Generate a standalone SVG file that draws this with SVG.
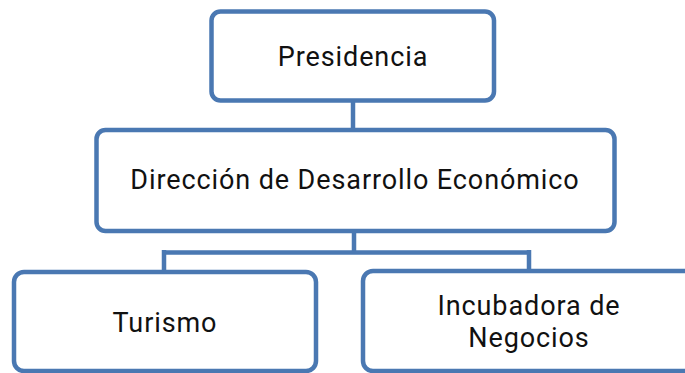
<svg xmlns="http://www.w3.org/2000/svg" width="685" height="373" viewBox="0 0 685 373">
<style>
.box{fill:#ffffff;stroke:#4A78B2;stroke-width:4.5}
.conn{fill:none;stroke:#4A78B2;stroke-width:4.5}
.lbl{font-family:Roboto,"Liberation Sans",sans-serif;font-size:27px;fill:#111111;text-anchor:middle;letter-spacing:0.9px}
</style>
<rect width="685" height="373" fill="#ffffff"/>
<g id="connectors">
<line class="conn" x1="353" y1="101" x2="353" y2="130"/>
<path class="conn" d="M354 231 V252.5 M164 252.5 H529 M164 250 V272 M529 250 V271"/>
</g>
<g id="presidencia">
<rect class="box" x="211.5" y="11.5" width="282.5" height="89" rx="9"/>
<text class="lbl" x="353" y="66">Presidencia</text>
</g>
<g id="direccion">
<rect class="box" x="96.5" y="130" width="518" height="101" rx="9"/>
<text class="lbl" x="355" y="189">Dirección de Desarrollo Económico</text>
</g>
<g id="turismo">
<rect class="box" x="14" y="272" width="302" height="99" rx="10"/>
<text class="lbl" x="165" y="332">Turismo</text>
</g>
<g id="incubadora">
<rect class="box" x="363" y="271" width="332" height="100" rx="10"/>
<text class="lbl" x="529" y="314.5">Incubadora de</text>
<text class="lbl" x="529" y="346.5">Negocios</text>
</g>
</svg>
